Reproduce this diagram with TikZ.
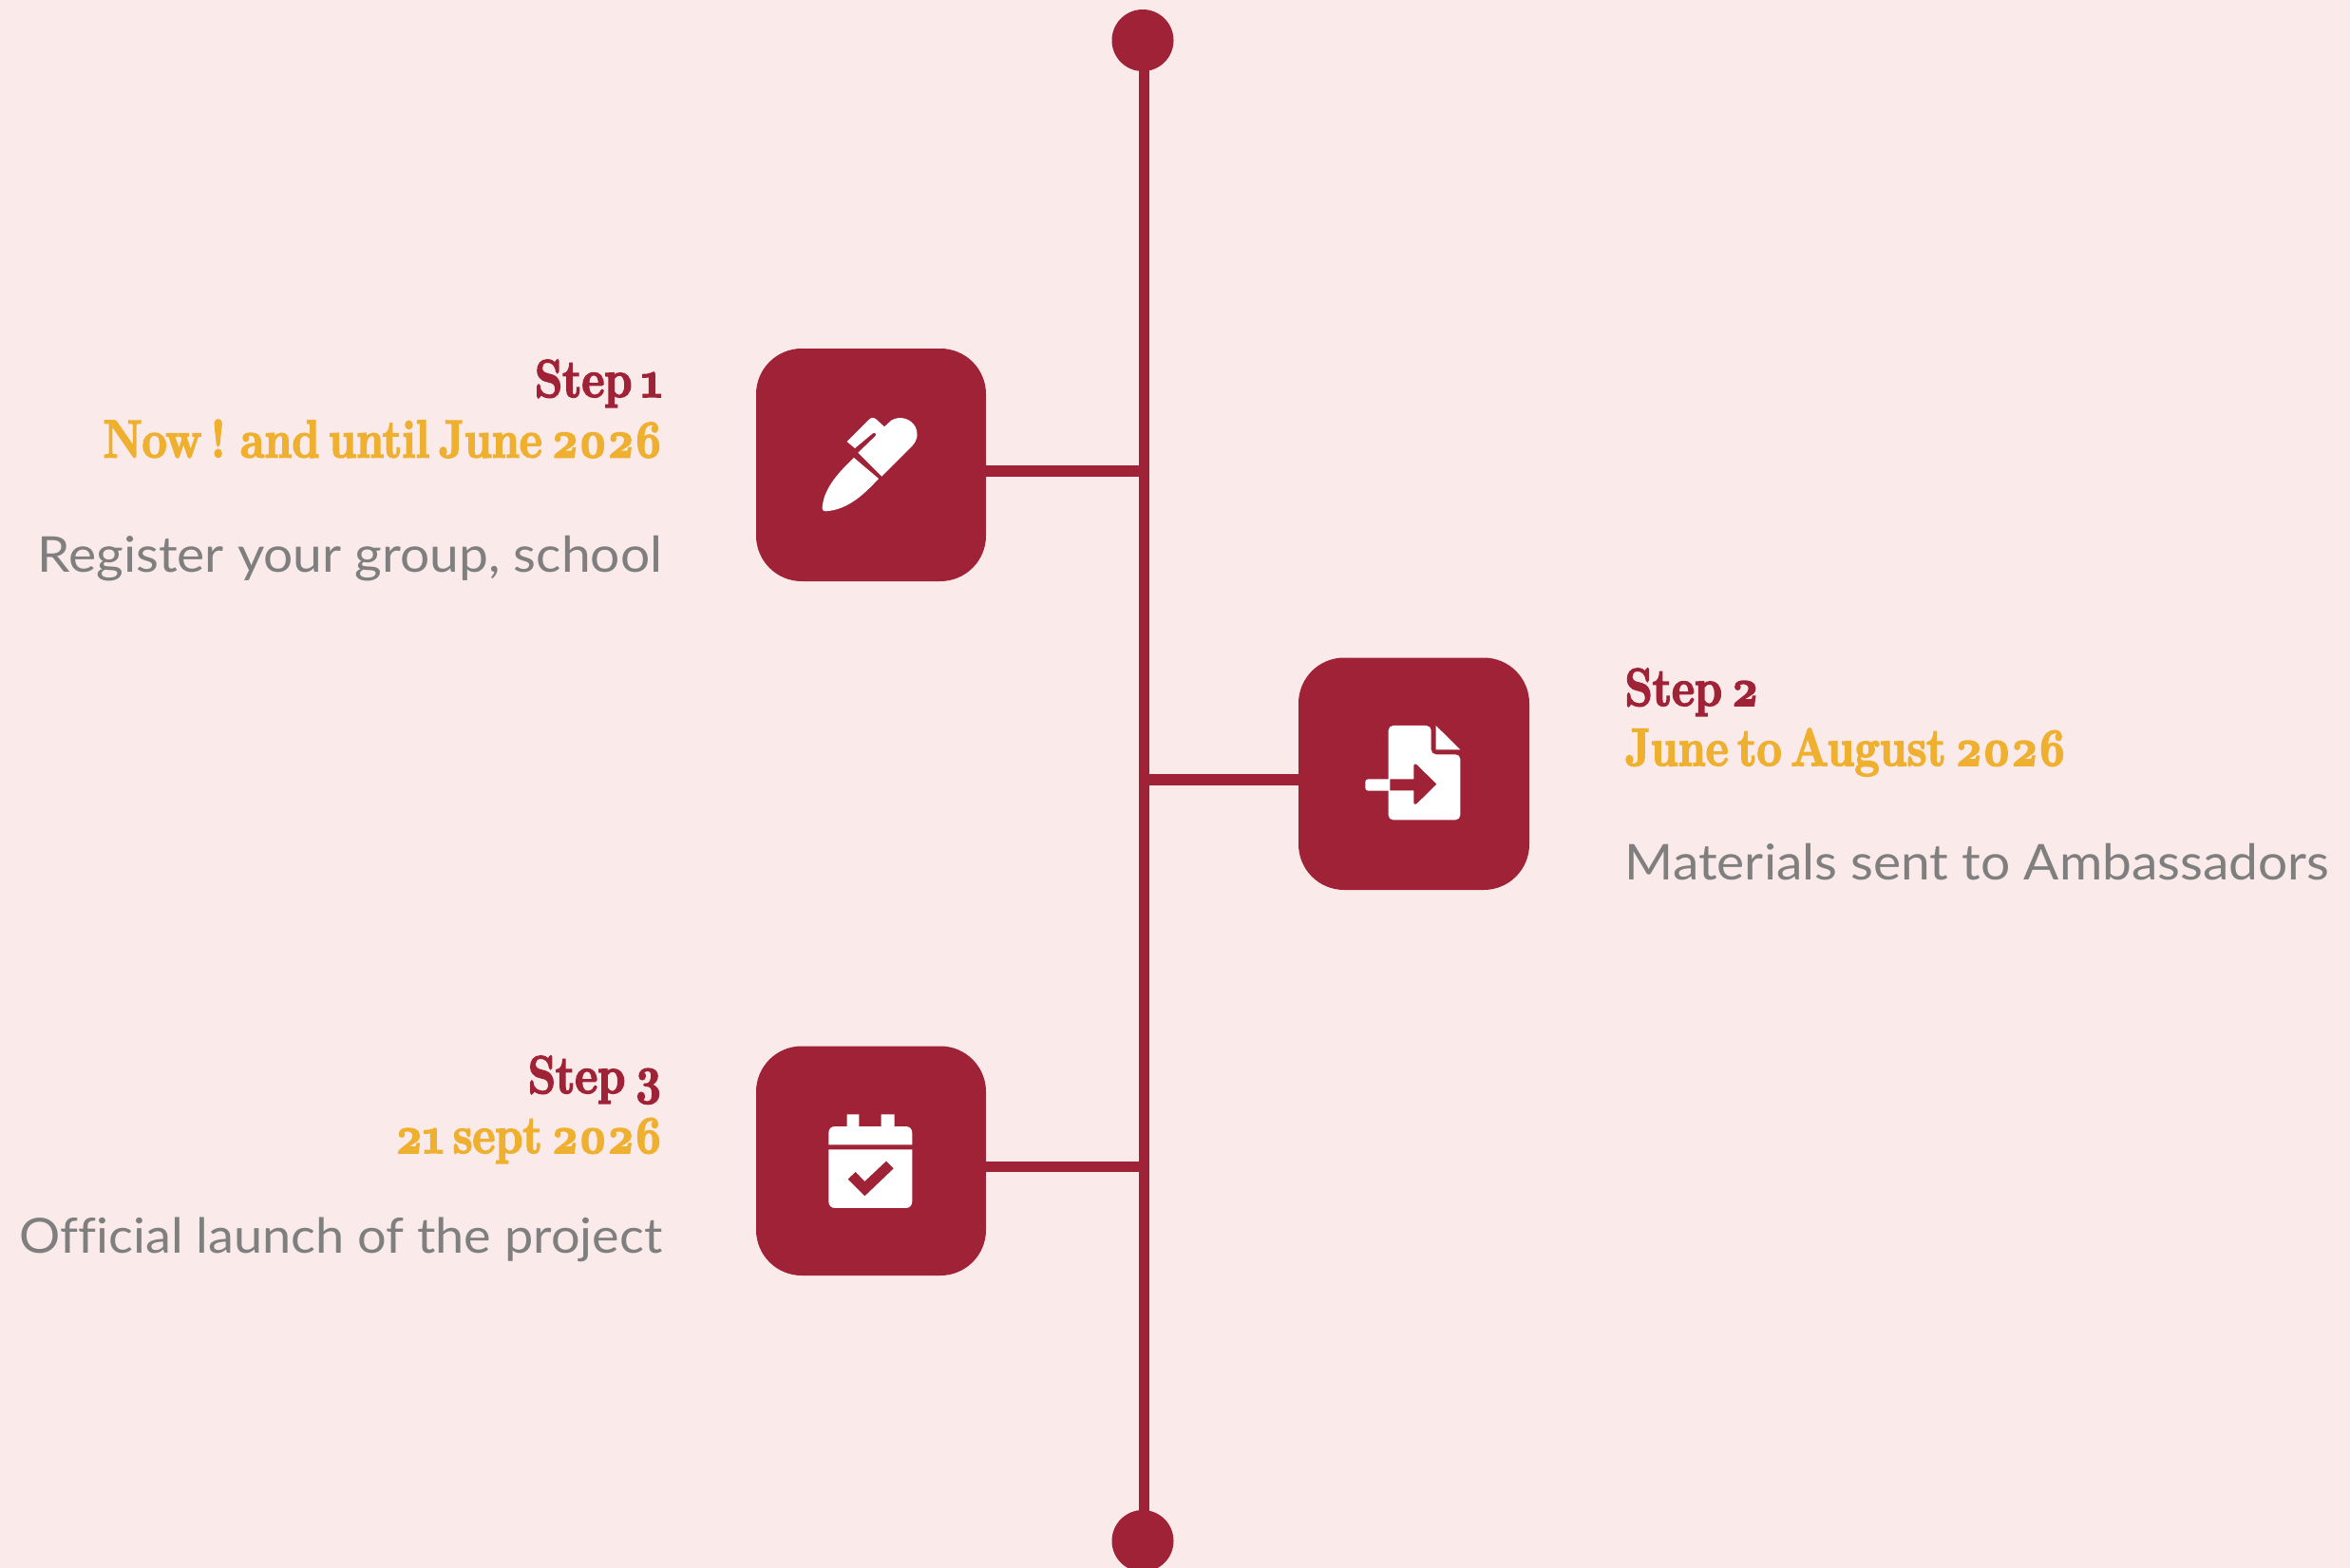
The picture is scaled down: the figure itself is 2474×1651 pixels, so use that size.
\documentclass[tikz,border=0pt]{standalone}
\usepackage{fontspec}
\setmainfont{Lato}
\newfontfamily\headfont[Numbers=OldStyle,FakeStretch=0.83,FakeBold=3,WordSpace=0.55]{Latin Modern Roman}
\newfontfamily\bodyfont[FakeStretch=1.06,Ligatures=CommonOff]{Lato}
\definecolor{bgc}{HTML}{FAEBEA}
\definecolor{crim}{HTML}{A02237}
\definecolor{gold}{HTML}{EFB02F}
\definecolor{greyt}{HTML}{7F7F7F}
\tikzset{
  tile/.style={fill=crim,rounded corners=48pt},
  link/.style={draw=crim,line width=11.5pt},
  enddot/.style={circle,fill=crim,minimum size=65pt,inner sep=0pt},
  stepline/.style={inner sep=0pt,text=crim,font=\fontsize{56}{56}\selectfont\headfont\bfseries},
  dateline/.style={inner sep=0pt,text=gold,font=\fontsize{56}{56}\selectfont\headfont\bfseries},
  bodyline/.style={inner sep=0pt,text=greyt,font=\fontsize{52}{52}\selectfont\bodyfont},
  ink/.style={fill=white,draw=none},
  cut/.style={fill=crim,draw=none}
}
\begin{document}
\begin{tikzpicture}[x=1pt,y=-1pt]
\useasboundingbox (0,0) rectangle (2474,1651);
\fill[bgc] (0,0) rectangle (2474,1651);
% spine
\node[enddot] (top) at (1203,42.5) {};
\node[enddot] (bot) at (1203,1622.5) {};
\coordinate (spinetop) at (1204.3,42.5);
\coordinate (spinebot) at (1204.3,1622.5);
\draw[link] (spinetop) -- (spinebot);
% tiles
\path[tile] (796,367) rectangle (1038,612);
\path[tile] (1367,692.5) rectangle (1610,937);
\path[tile] (796,1101.5) rectangle (1038,1343);
\coordinate (t1) at (1038,496);
\coordinate (s1) at (1204,496);
\coordinate (t2) at (1367,821);
\coordinate (s2) at (1204,821);
\coordinate (t3) at (1038,1228.5);
\coordinate (s3) at (1204,1228.5);
\draw[link] (t1) -- (s1);
\draw[link] (t2) -- (s2);
\draw[link] (t3) -- (s3);
% pen icon
\begin{scope}[shift={(780,360)},x=0.3333pt,y=-0.3333pt]
\path[ink] (357,366) -- (435,432) .. controls (390,480) and (340,530) .. (268,535) .. controls (258,535) and (255,528) .. (258,515) .. controls (265,460) and (310,410) .. (357,366) -- cycle;
\path[ink] (370,350) -- (425,297) .. controls (430,290) and (422,284) .. (415,290) -- (360,336) -- (335,315) -- (405,245) .. controls (412,238) and (420,238) .. (428,245) -- (453,268) -- (475,248) .. controls (505,230) and (540,245) .. (552,270) .. controls (562,295) and (555,315) .. (540,330) -- (445,425) -- cycle;
\end{scope}
% document icon
\begin{scope}[shift={(1360,680)},x=0.3333pt,y=-0.3333pt]
\path[ink,rounded corners=5pt] (305,252) -- (440,252) -- (440,343) -- (532,343) -- (532,550) -- (305,550) -- cycle;
\path[ink] (455,252) -- (532,328) -- (455,328) -- cycle;
\path[ink,rounded corners=3pt] (232,421) -- (320,421) -- (320,458) -- (232,458) -- cycle;
\path[cut] (310,421) -- (385,421) -- (385,378) .. controls (385,372) and (392,372) .. (395,376) -- (457,437) -- (395,498) .. controls (392,502) and (385,502) .. (385,496) -- (385,457) -- (310,457) -- cycle;
\end{scope}
% calendar icon
\begin{scope}[shift={(780,1090)},x=0.3333pt,y=-0.3333pt]
\path[ink] (335,250) -- (373,250) -- (373,288) -- (443,288) -- (443,250) -- (485,250) -- (485,288) -- (520,288) .. controls (533,288) and (541,296) .. (541,309) -- (541,346) -- (277,346) -- (277,309) .. controls (277,296) and (285,288) .. (298,288) -- (335,288) -- cycle;
\path[ink] (277,361) -- (541,361) -- (541,525) .. controls (541,538) and (533,546) .. (520,546) -- (298,546) .. controls (285,546) and (277,538) .. (277,525) -- cycle;
\path[cut] (338,455) -- (362,432) -- (391,462) -- (459,398) -- (482,421) -- (391,508) -- cycle;
\end{scope}
% text
\node[stepline,anchor=base east] (a1) at (697.5,418) {Step 1};
\node[dateline,anchor=base east] (a2) at (697.5,481.5) {Now ! and until June 2026};
\node[bodyline,anchor=base east] (a3) at (697.5,602) {Register your group, school};
\node[stepline,anchor=base west] (b1) at (1710.5,743) {Step 2};
\node[dateline,anchor=base west] (b2) at (1710.5,806) {June to August 2026};
\node[bodyline,anchor=base west] (b3) at (1710.5,926.5) {Materials sent to Ambassadors};
\node[stepline,anchor=base east] (c1) at (697.5,1151) {Step 3};
\node[dateline,anchor=base east] (c2) at (697.5,1214) {21 sept 2026};
\node[bodyline,anchor=base east,font=\fontsize{51}{51}\selectfont\bodyfont] (c3) at (697.5,1319.5) {Official launch of the project};
\end{tikzpicture}
\end{document}
